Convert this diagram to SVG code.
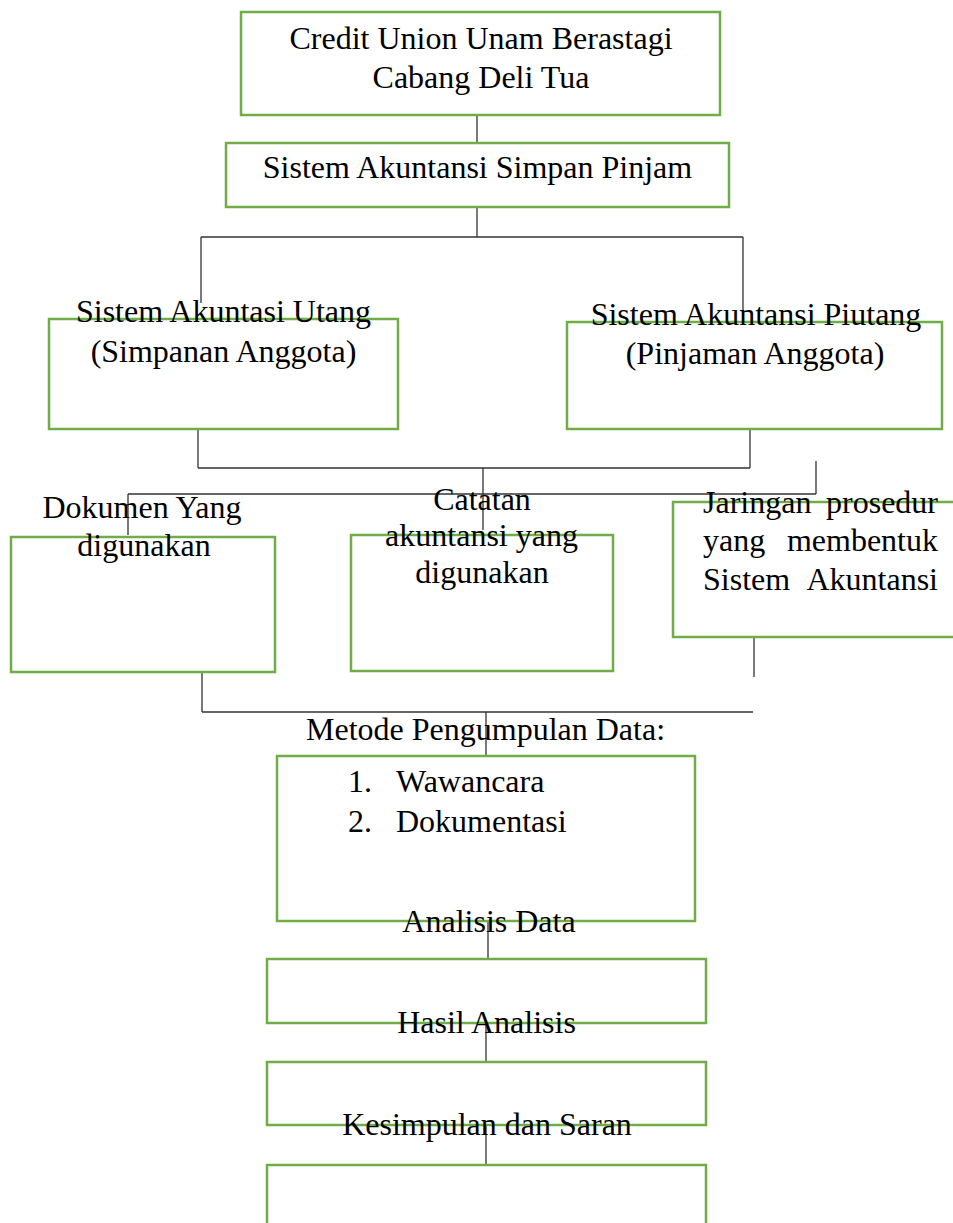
<svg xmlns="http://www.w3.org/2000/svg" width="953" height="1223" viewBox="0 0 953 1223">
<style>
.box{fill:none;stroke:#70AD47;stroke-width:2.5}
.c{stroke:#333;stroke-width:1.3;fill:none}
text{font-family:"Liberation Serif","Times New Roman",serif;font-size:32px;fill:#000}
.m{text-anchor:middle}
.e{text-anchor:end}
</style>
<rect width="953" height="1223" fill="#fff"/>
<g id="connectors">
<path class="c" d="M477,115V143M477,207V237M201,237H743M201,237V303M743,237V317M198,429V468M750,429V468M198,468H750M483,468V530M816,461V494M128,494H816M128,494V535M202,672V712M202,712H753M754,637V677M486,712V756M488,922V959M486,1023V1062M486,1125V1165"/>
</g>
<g id="n1"><rect class="box" x="241" y="12" width="479" height="103"/>
<text class="m" x="481" y="49">Credit Union Unam Berastagi</text>
<text class="m" x="481" y="88">Cabang Deli Tua</text></g>
<g id="n2"><rect class="box" x="226" y="143" width="503" height="64"/>
<text class="m" x="477.5" y="178">Sistem Akuntansi Simpan Pinjam</text></g>
<g id="n3"><rect class="box" x="49" y="319" width="349" height="110"/>
<text class="m" x="223.5" y="322">Sistem Akuntasi Utang</text>
<text class="m" x="223.5" y="362">(Simpanan Anggota)</text></g>
<g id="n4"><rect class="box" x="567" y="322" width="375" height="107"/>
<text class="m" x="756" y="325">Sistem Akuntansi Piutang</text>
<text class="m" x="755" y="364">(Pinjaman Anggota)</text></g>
<g id="n5"><rect class="box" x="11" y="537" width="264" height="135"/>
<text class="m" x="142" y="518">Dokumen Yang</text>
<text class="m" x="144" y="556">digunakan</text></g>
<g id="n6"><rect class="box" x="351" y="535" width="262" height="136"/>
<text class="m" x="482" y="510">Catatan</text>
<text class="m" x="481.5" y="546">akuntansi yang</text>
<text class="m" x="482" y="583">digunakan</text></g>
<g id="n7"><rect class="box" x="673" y="502" width="290" height="135"/>
<text x="703" y="513">Jaringan</text><text class="e" x="938" y="513">prosedur</text>
<text x="703" y="551">yang</text><text class="e" x="938" y="551">membentuk</text>
<text x="703" y="590">Sistem</text><text class="e" x="938" y="590">Akuntansi</text></g>
<g id="n8"><rect class="box" x="277" y="756" width="418" height="165"/>
<text class="m" x="485.5" y="740">Metode Pengumpulan Data:</text>
<text x="348" y="792">1.</text><text x="396" y="792">Wawancara</text>
<text x="348" y="832">2.</text><text x="396" y="832">Dokumentasi</text></g>
<g id="n9"><rect class="box" x="267" y="959" width="439" height="64"/>
<text class="m" x="489" y="932">Analisis Data</text></g>
<g id="n10"><rect class="box" x="267" y="1062" width="439" height="63"/>
<text class="m" x="486.5" y="1033">Hasil Analisis</text></g>
<g id="n11"><rect class="box" x="267" y="1165" width="439" height="70"/>
<text class="m" x="487" y="1135">Kesimpulan dan Saran</text></g>
</svg>
